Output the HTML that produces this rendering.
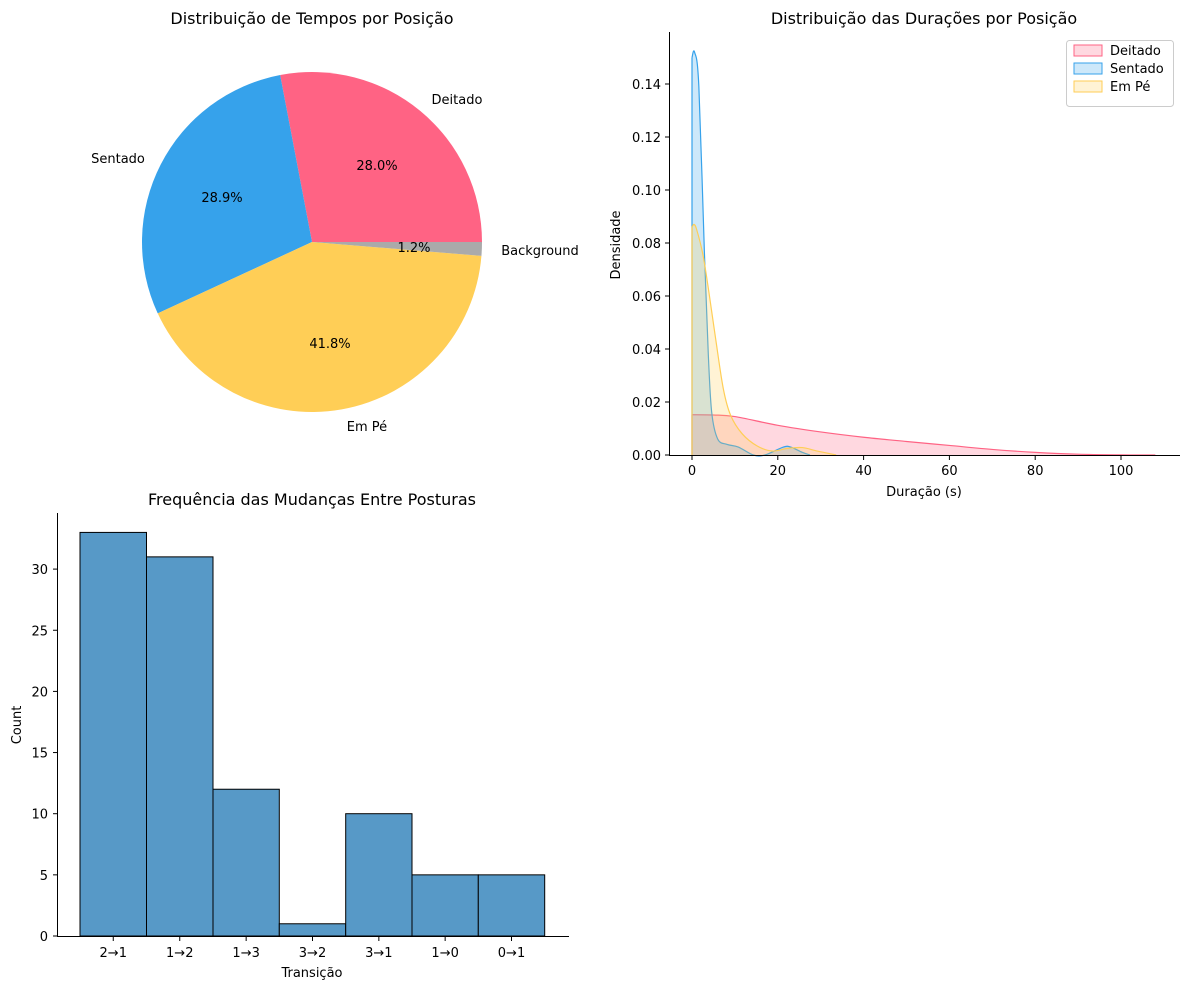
<!DOCTYPE html>
<html><head><meta charset="utf-8"><style>
body{margin:0;background:#fff}
svg{display:block;font-family:"DejaVu Sans","Liberation Sans",sans-serif}
</style></head><body>
<svg id="s" width="1189" height="989" viewBox="0 0 1189 989" xmlns="http://www.w3.org/2000/svg">
<rect width="1189" height="989" fill="#fff"/>
<g id="pie"></g>
<text x="312" y="24" font-size="16" text-anchor="middle">Distribuição de Tempos por Posição</text>
<g font-size="13">
<text x="457" y="104" text-anchor="middle">Deitado</text>
<text x="118" y="163" text-anchor="middle">Sentado</text>
<text x="540" y="255" text-anchor="middle">Background</text>
<text x="367" y="431" text-anchor="middle">Em Pé</text>
<text x="377" y="170" text-anchor="middle">28.0%</text>
<text x="222" y="202" text-anchor="middle">28.9%</text>
<text x="414" y="252" text-anchor="middle">1.2%</text>
<text x="330" y="348" text-anchor="middle">41.8%</text>
</g>

<text x="924" y="24" font-size="16" text-anchor="middle">Distribuição das Durações por Posição</text>
<g id="kde"></g>
<line x1="669.5" y1="32" x2="669.5" y2="455.5" stroke="#000" stroke-width="1"/>
<line x1="669" y1="455.5" x2="1180" y2="455.5" stroke="#000" stroke-width="1"/>
<g id="kdeticks" font-size="13"></g>
<text x="924" y="496" font-size="13" text-anchor="middle">Duração (s)</text>
<text transform="translate(620,245) rotate(-90)" font-size="13" text-anchor="middle">Densidade</text>
<g>
<rect x="1066.5" y="40.5" width="107" height="66" rx="3" fill="#fff" fill-opacity="0.8" stroke="#ccc"/>
<rect x="1074" y="45" width="28" height="11" fill="rgba(255,99,132,0.25)" stroke="#FF6384"/>
<rect x="1074" y="63" width="28" height="11" fill="rgba(54,162,235,0.25)" stroke="#36A2EB"/>
<rect x="1074" y="81" width="28" height="11" fill="rgba(255,206,86,0.25)" stroke="#FFCE56"/>
<g font-size="13"><text x="1110" y="55">Deitado</text><text x="1110" y="73">Sentado</text><text x="1110" y="91">Em Pé</text></g>
</g>

<text x="312" y="505" font-size="16" text-anchor="middle">Frequência das Mudanças Entre Posturas</text>
<g id="hist"></g>
<line x1="57.5" y1="513" x2="57.5" y2="936.5" stroke="#000"/>
<line x1="57" y1="936.5" x2="569" y2="936.5" stroke="#000"/>
<text x="312" y="977" font-size="13" text-anchor="middle">Transição</text>
<text transform="translate(21,725) rotate(-90)" font-size="13" text-anchor="middle">Count</text>
</svg>
<script>
var NS="http://www.w3.org/2000/svg";
function el(p,t,a,txt){var e=document.createElementNS(NS,t);for(var k in a)e.setAttribute(k,a[k]);if(txt!==undefined)e.textContent=txt;document.getElementById(p).appendChild(e);return e;}
var cx=312,cy=242,r=170;
var sl=[[28.0,"#FF6384"],[28.9,"#36A2EB"],[41.8,"#FFCE56"],[1.3,"#AAAAAA"]];
var a0=0;
sl.forEach(function(s){var a1=a0+s[0]*3.6;
var x0=cx+r*Math.cos(a0*Math.PI/180),y0=cy-r*Math.sin(a0*Math.PI/180);
var x1=cx+r*Math.cos(a1*Math.PI/180),y1=cy-r*Math.sin(a1*Math.PI/180);
var lg=(a1-a0)>180?1:0;
el("pie","path",{d:"M"+cx+","+cy+" L"+x0+","+y0+" A"+r+","+r+" 0 "+lg+" 0 "+x1+","+y1+" Z",fill:s[1]});
a0=a1;});
function PX(x){return 692+4.29*x}function PY(y){return 455-2650*y}
function curve(pts){var d="M"+PX(pts[0][0])+","+PY(pts[0][1]);
for(var i=0;i<pts.length-1;i++){var p0=pts[Math.max(0,i-1)],p1=pts[i],p2=pts[i+1],p3=pts[Math.min(pts.length-1,i+2)];
var c1x=PX(p1[0])+(PX(p2[0])-PX(p0[0]))/6,c1y=PY(p1[1])+(PY(p2[1])-PY(p0[1]))/6;
var c2x=PX(p2[0])-(PX(p3[0])-PX(p1[0]))/6,c2y=PY(p2[1])-(PY(p3[1])-PY(p1[1]))/6;
d+=" C"+c1x+","+c1y+" "+c2x+","+c2y+" "+PX(p2[0])+","+PY(p2[1]);}
return d;}
var dei=[[0,0.0152],[5,0.0151],[10,0.0145],[20,0.0112],[30,0.0087],[40,0.0067],[50,0.0051],[60,0.0036],[70,0.0021],[80,0.001],[90,0.0003],[100,0.00005],[108,0]];
var sen=[[0,0.15],[0.6,0.152],[1.6,0.139],[2.9,0.076],[3.8,0.038],[4.6,0.016],[6.0,0.006],[8.2,0.004],[10.8,0.003],[14.3,0],[17,0],[21.3,0.003],[23,0.003],[25.7,0.001],[27.5,0]];
var emp=[[0,0.086],[0.5,0.087],[1.1,0.085],[2.5,0.076],[3.8,0.063],[5.5,0.044],[7.3,0.025],[9,0.015],[11.7,0.008],[15.2,0.0034],[18.7,0.0015],[22.2,0.0025],[25.7,0.0028],[29.2,0.0015],[33.6,0]];
[[dei,"255,99,132","#FF6384"],[sen,"54,162,235","#36A2EB"],[emp,"255,206,86","#FFCE56"]].forEach(function(s){
var c=curve(s[0]);var last=s[0][s[0].length-1];
el("kde","path",{d:c+" L"+PX(last[0])+","+PY(0)+" L"+PX(0)+","+PY(0)+" Z",fill:"rgba("+s[1]+",0.25)",stroke:"none"});
el("kde","path",{d:c,fill:"none",stroke:s[2],"stroke-width":1.2});
el("kde","line",{x1:PX(0),y1:PY(0),x2:PX(0),y2:PY(s[0][0][1]),stroke:s[2],"stroke-width":1.2});
});
for(var v=0;v<=0.14001;v+=0.02){var y=PY(v);el("kdeticks","line",{x1:665,y1:y,x2:669,y2:y,stroke:"#000"});
el("kdeticks","text",{x:661,y:y+5,"text-anchor":"end"},v.toFixed(2));}
for(var v=0;v<=100;v+=20){var x=PX(v);el("kdeticks","line",{x1:x,y1:456,x2:x,y2:460,stroke:"#000"});
el("kdeticks","text",{x:x,y:475,"text-anchor":"middle"},String(v));}
var cnt=[33,31,12,1,10,5,5],lab=["2→1","1→2","1→3","3→2","3→1","1→0","0→1"];
var bx=[80,146.5,213,279.3,345.7,412,478.3,544.7];
function HY(c){return 936-12.23*c}
for(var i=0;i<7;i++){el("hist","rect",{x:bx[i],y:HY(cnt[i]),width:bx[i+1]-bx[i],height:936-HY(cnt[i]),fill:"#5799C7",stroke:"#000","stroke-width":1});
var m=(bx[i]+bx[i+1])/2;el("hist","line",{x1:m,y1:937,x2:m,y2:941,stroke:"#000"});
el("hist","text",{x:m,y:957,"text-anchor":"middle","font-size":13},lab[i]);}
for(var c=0;c<=30;c+=5){var y=HY(c);el("hist","line",{x1:53,y1:y,x2:57,y2:y,stroke:"#000"});
el("hist","text",{x:48,y:y+5,"text-anchor":"end","font-size":13},String(c));}
</script>
</body></html>
